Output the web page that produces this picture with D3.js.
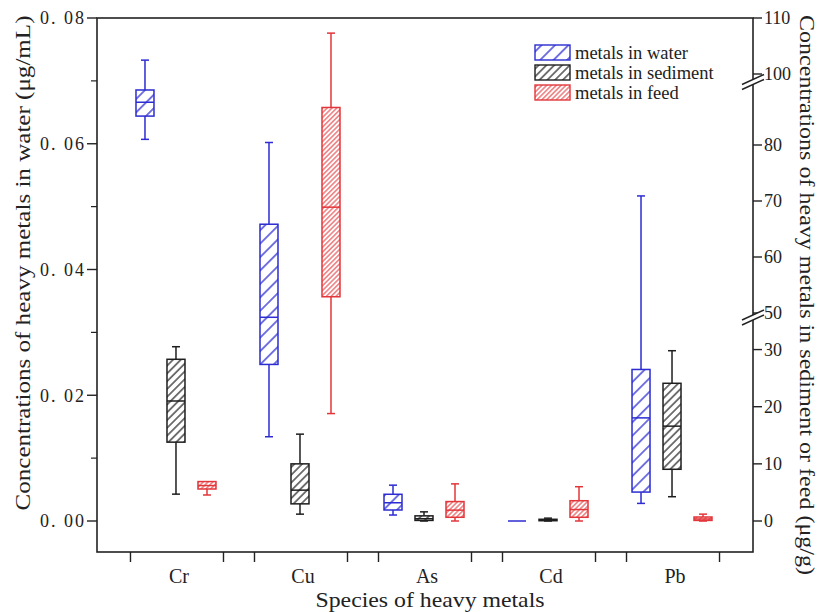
<!DOCTYPE html>
<html>
<head>
<meta charset="utf-8">
<script src="https://cdn.jsdelivr.net/npm/d3@7"></script>
<style>
  html, body { margin: 0; padding: 0; background: #fff; }
  svg { display: block; }
  text { font-family: "Liberation Serif", "Times New Roman", serif; fill: #222; }
</style>
</head>
<body>
<svg id="chart" width="826" height="612"></svg>
<script>
// ---------------- DATA ----------------
const categories = ["Cr", "Cu", "As", "Cd", "Pb"];
const seriesNames = ["metals in water", "metals in sediment", "metals in feed"];
// box stats: [whiskerLow, Q1, median, Q3, whiskerHigh]
const waterStats = [
  [0.0607, 0.0644, 0.0666, 0.06855, 0.0733],
  [0.0134, 0.0249, 0.0324, 0.0472, 0.0602],
  [0.00095, 0.00175, 0.0029, 0.00425, 0.0057],
  [0.0, 0.0, 0.0, 0.0, 0.0],
  [0.0028, 0.0046, 0.0164, 0.0241, 0.0517]
];
const sedimentStats = [
  [4.7, 13.8, 21.0, 28.3, 30.5],
  [1.2, 3.0, 5.4, 10.0, 15.2],
  [0.0, 0.1, 0.4, 0.9, 1.6],
  [0.0, 0.05, 0.15, 0.3, 0.5],
  [4.25, 9.05, 16.6, 24.1, 29.8]
];
const feedStats = [
  [4.55, 5.6, 6.2, 6.9, 6.9],
  [18.8, 52.9, 68.9, 86.7, 107.3],
  [0.0, 0.65, 1.9, 3.4, 6.5],
  [0.0, 0.65, 2.0, 3.55, 6.0],
  [0.0, 0.1, 0.35, 0.7, 1.2]
];
const leftTicks = [0, 0.02, 0.04, 0.06, 0.08];
const leftTickLabels = ["0. 00", "0. 02", "0. 04", "0. 06", "0. 08"];
const leftMinorTicks = [0.01, 0.03, 0.05, 0.07];
const rightTicks = [0, 10, 20, 30, 50, 60, 70, 80, 100, 110];
// right axis segments (broken axis): [0,35] | [50,90] | [100,110]
const rightDomain = [0, 35, 50, 90, 100, 110];
const rightBreaks = [42.5, 95];

// ---------------- LAYOUT ----------------
const W = 826, H = 612;
const L = 97, R = 753, T = 18, B = 552;
const zeroY = 521;
const colors = { "metals in water": "#2c2cd2", "metals in sediment": "#1e1e1e", "metals in feed": "#e2363a" };
const hatchGap = { "metals in water": 9.5, "metals in sediment": 5.5, "metals in feed": 3.4 };
const hatchW = { "metals in water": 1.3, "metals in sediment": 1.2, "metals in feed": 1.0 };
const boxW = 18, capW = 8;

const svg = d3.select("#chart");

// scales
const x = d3.scaleBand().domain(categories).range([L, R]).paddingInner(0.25).paddingOuter(0.27);
const xs = d3.scalePoint().domain(seriesNames).range([-32, 30]);
const yL = d3.scaleLinear().domain([0, 0.08]).range([zeroY, T]);
const yR = d3.scaleLinear().domain(rightDomain).range([zeroY, 321, 313, 89, 74, T]);

// hatch patterns
const defs = svg.append("defs");
seriesNames.forEach((s, i) => {
  const g = hatchGap[s];
  const p = defs.append("pattern")
    .attr("id", "hatch" + i)
    .attr("patternUnits", "userSpaceOnUse")
    .attr("width", g).attr("height", g)
    .attr("patternTransform", "rotate(45)");
  p.append("rect").attr("width", g).attr("height", g).attr("fill", "#fff");
  p.append("line").attr("x1", g / 2).attr("y1", -1).attr("x2", g / 2).attr("y2", g + 1)
    .attr("stroke", colors[s]).attr("stroke-width", hatchW[s]);
});

// ---------------- FRAME & AXES ----------------
const axisG = svg.append("g");
axisG.append("rect").attr("x", L).attr("y", T).attr("width", R - L).attr("height", B - T)
  .attr("fill", "none").attr("stroke", "#222").attr("stroke-width", 1.6);

// left axis
leftTicks.forEach((t, i) => {
  axisG.append("line").attr("x1", L - 10).attr("x2", L).attr("y1", yL(t)).attr("y2", yL(t))
    .attr("stroke", "#222").attr("stroke-width", 1.4);
  axisG.append("text").attr("x", L - 57).attr("y", yL(t)).attr("dy", "0.35em")
    .attr("text-anchor", "start").attr("font-size", 18)
    .attr("textLength", 44).attr("lengthAdjust", "spacing").text(leftTickLabels[i]);
});
leftMinorTicks.forEach(t => {
  axisG.append("line").attr("x1", L - 6).attr("x2", L).attr("y1", yL(t)).attr("y2", yL(t))
    .attr("stroke", "#222").attr("stroke-width", 1.2);
});

// right axis
rightTicks.forEach(t => {
  axisG.append("line").attr("x1", R).attr("x2", R + 9).attr("y1", yR(t)).attr("y2", yR(t))
    .attr("stroke", "#222").attr("stroke-width", 1.4);
  axisG.append("text").attr("x", R + 11).attr("y", yR(t)).attr("dy", "0.35em")
    .attr("text-anchor", "start").attr("font-size", 18).text(t);
});
// break marks
rightBreaks.forEach(b => {
  const yb = yR(b);
  const bg = axisG.append("g").attr("transform", `translate(${R},${yb})`);
  bg.append("polygon").attr("points", "-11,3 11,-7 11,-2 -11,8").attr("fill", "#fff");
  bg.append("line").attr("x1", -11).attr("y1", 3).attr("x2", 11).attr("y2", -7)
    .attr("stroke", "#222").attr("stroke-width", 1.4);
  bg.append("line").attr("x1", -11).attr("y1", 8).attr("x2", 11).attr("y2", -2)
    .attr("stroke", "#222").attr("stroke-width", 1.4);
});

// bottom axis ticks at band edges
categories.forEach(c => {
  [x(c), x(c) + x.bandwidth()].forEach(px => {
    axisG.append("line").attr("x1", px).attr("x2", px).attr("y1", B).attr("y2", B + 10)
      .attr("stroke", "#222").attr("stroke-width", 1.4);
  });
  axisG.append("text").attr("x", x(c) + x.bandwidth() / 2 + 2).attr("y", 583)
    .attr("text-anchor", "middle").attr("font-size", 20).text(c);
});

// axis titles
svg.append("text").attr("transform", `translate(30,263) rotate(-90)`)
  .attr("text-anchor", "middle").attr("font-size", 22)
  .attr("textLength", 495).attr("lengthAdjust", "spacingAndGlyphs")
  .text("Concentrations of heavy metals in water (\u03bcg/mL)");
svg.append("text").attr("transform", `translate(800,295) rotate(90)`)
  .attr("text-anchor", "middle").attr("font-size", 22)
  .attr("textLength", 560).attr("lengthAdjust", "spacingAndGlyphs")
  .text("Concentrations of heavy metals in sediment or feed (\u03bcg/g)");
svg.append("text").attr("x", 430).attr("y", 607).attr("text-anchor", "middle").attr("font-size", 21)
  .attr("textLength", 229).attr("lengthAdjust", "spacingAndGlyphs")
  .text("Species of heavy metals");

// ---------------- BOXES ----------------
const seriesData = [
  { name: seriesNames[0], stats: waterStats, y: yL },
  { name: seriesNames[1], stats: sedimentStats, y: yR },
  { name: seriesNames[2], stats: feedStats, y: yR }
];
const boxes = svg.append("g");
seriesData.forEach((sd, si) => {
  const col = colors[sd.name];
  categories.forEach((c, ci) => {
    const [lo, q1, med, q3, hi] = sd.stats[ci];
    const cx = x(c) + x.bandwidth() / 2 + xs(sd.name);
    const y = sd.y;
    const g = boxes.append("g");
    if (hi > q3) {
      g.append("line").attr("x1", cx).attr("x2", cx).attr("y1", y(q3)).attr("y2", y(hi)).attr("stroke", col).attr("stroke-width", 1.5);
      g.append("line").attr("x1", cx - capW / 2).attr("x2", cx + capW / 2).attr("y1", y(hi)).attr("y2", y(hi)).attr("stroke", col).attr("stroke-width", 1.5);
    }
    if (lo < q1) {
      g.append("line").attr("x1", cx).attr("x2", cx).attr("y1", y(q1)).attr("y2", y(lo)).attr("stroke", col).attr("stroke-width", 1.5);
      g.append("line").attr("x1", cx - capW / 2).attr("x2", cx + capW / 2).attr("y1", y(lo)).attr("y2", y(lo)).attr("stroke", col).attr("stroke-width", 1.5);
    }
    g.append("rect").attr("x", cx - boxW / 2).attr("y", y(q3)).attr("width", boxW)
      .attr("height", Math.max(0, y(q1) - y(q3)))
      .attr("fill", `url(#hatch${si})`).attr("stroke", col).attr("stroke-width", 1.5);
    g.append("line").attr("x1", cx - boxW / 2).attr("x2", cx + boxW / 2).attr("y1", y(med)).attr("y2", y(med))
      .attr("stroke", col).attr("stroke-width", 1.5);
  });
});

// ---------------- LEGEND ----------------
const lg = svg.append("g").attr("transform", "translate(535,45)");
seriesNames.forEach((s, i) => {
  const row = lg.append("g").attr("transform", `translate(0,${i * 20})`);
  row.append("rect").attr("x", 0).attr("y", 0).attr("width", 35).attr("height", 15)
    .attr("fill", `url(#hatch${i})`).attr("stroke", colors[s]).attr("stroke-width", 1.4);
  row.append("text").attr("x", 40).attr("y", 7.5).attr("dy", "0.35em").attr("font-size", 18.5).text(s);
});
</script>
</body>
</html>
